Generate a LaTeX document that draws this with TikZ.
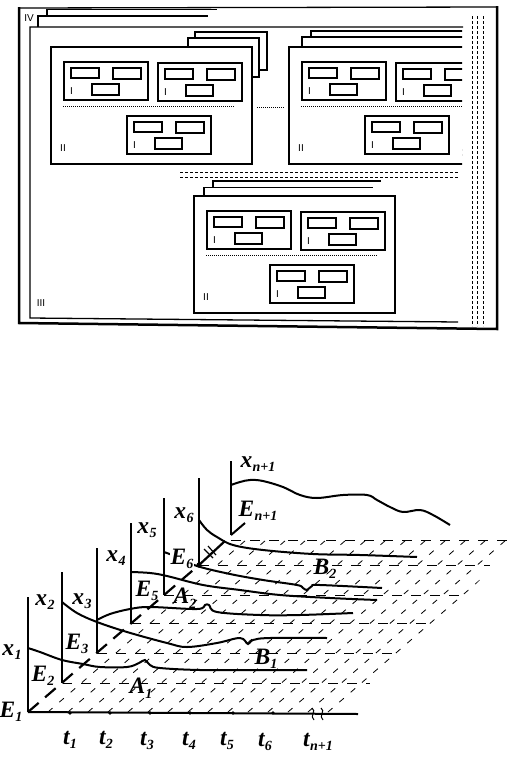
\documentclass[tikz,border=0pt]{standalone}
\usepackage{fontspec}
\setmainfont{Liberation Serif}
\setsansfont{Liberation Sans}
\newcommand\lbx[2]{{\fontsize{23.5}{25}\selectfont\bfseries\itshape #1\kern0.3pt\raisebox{-4.5pt}{\fontsize{14}{15}\selectfont #2}}}
\tikzset{
  iframe/.style={draw=black, line width=1.4pt},
  srect/.style={draw=black, line width=1.1pt},
  iiframe/.style={draw=black, line width=1.3pt},
  dotline/.style={line width=1pt, dash pattern=on 1pt off 1pt},
  dashv/.style={line width=1pt, dash pattern=on 3pt off 2pt},
  romlab/.style={font=\sffamily\fontsize{10}{10}\selectfont, inner sep=0pt},
  lab/.style={inner sep=0pt, anchor=center},
  gridrow/.style={line width=0.9pt, dash pattern=on 10pt off 9pt},
  griddiag/.style={line width=0.8pt, dash pattern=on 6pt off 9pt},
  curve/.style={line width=2pt, smooth, tension=0.6},
  ibox/.pic={
    \draw[iframe] (0,0) rectangle (84,38);
    \draw[srect] (7,6) rectangle (35,16);
    \draw[srect] (49,6) rectangle (77,17);
    \draw[srect] (28,22) rectangle (55,33);
    \node[romlab] (-l) at (7.5,29) {I};
  },
  iibox/.pic={
    \draw[iiframe, fill=white] (0,0) rectangle (201,117);
    \pic (-a) at (13,15) {ibox};
    \pic (-b) at (107,16) {ibox};
    \pic (-c) at (76,69) {ibox};
    \draw[dotline] (12,59) -- (183,59);
    \node[romlab] (-l) at (12,101) {II};
  }
}
\begin{document}
\begin{tikzpicture}[x=1pt,y=-1pt]
\useasboundingbox (0,0) rectangle (517,758);
% ================= TOP DIAGRAM =================
% outer IV frame
\draw[line width=1.3pt] (19,8) -- (497,7);
\draw[line width=2.5pt] (19,7) -- (19,323) -- (497,329) -- (497,6);
\node[romlab] (IV) at (29,18) {IV};
% stacked frames behind III
\draw[line width=1.2pt] (38,27) -- (38,16) -- (208,16);
\draw[line width=1.2pt] (47,16) -- (47,9.5) -- (217,9.5);
% III frame
\draw[iiframe] (463,27) -- (30,27) -- (30,318) -- (458,322);
\node[romlab] (III) at (41,303) {III};
% dashed right verticals
\foreach \x in {472,477.5,483} \draw[dashv] (\x,16) -- (\x,326);
% box A with stack
\draw[iiframe, fill=white] (195,32) rectangle (267,70);
\draw[iiframe, fill=white] (188,38) rectangle (259,77);
\pic (A) at (51,47) {iibox};
\draw[dotline] (257,107) -- (285,107);
% box B (clipped)
\begin{scope}
  \clip (0,0) rectangle (462,758);
  \draw[iiframe, fill=white] (311,31) rectangle (520,150);
  \draw[iiframe, fill=white] (302,37) rectangle (520,155);
  \pic (B) at (289,47) {iibox};
\end{scope}
% dashed horizontals
\draw[dashv] (180,172) -- (458,172);
\draw[dashv] (180,177) -- (458,177);
% box C
\draw[iiframe] (213,187.5) -- (213,181) -- (381,181);
\draw[iiframe] (204,196) -- (204,187.5) -- (373,187.5);
\pic (C) at (194,196) {iibox};
% ================= BOTTOM PLOT =================
% ground grid
\begin{scope}
  \clip (28,714) -- (345,714) -- (522,538) -- (231,536) -- cycle;
  \foreach \y/\xs in {683/62, 653/97, 623/131, 595/164, 565/199, 540/231}
    \draw[gridrow] (\xs,\y) -- ({340+(712-\y)*1.02},\y);
  \foreach \x in {48,68,...,338}
    \draw[griddiag] (\x,712) -- ({\x+198},540);
\end{scope}
% curves
\draw[curve] plot coordinates {(28,648) (40,652) (62,660) (83,664) (100,667) (127,667) (139,663) (145,660) (150,665) (160,668) (200,670) (260,670) (307,670)};
\draw[curve] plot coordinates {(62,602) (77,613) (97,622) (127,632) (167,643) (187,647) (217,643) (240,638) (248,644) (253,640) (270,638) (327,638)};
\draw[curve] plot coordinates {(97,620) (110,614) (130,609) (150,607) (197,609) (205,605) (209,605) (217,612) (260,615) (300,615) (353,613)};
\draw[curve] plot coordinates {(131,572) (150,573) (167,576) (203,585) (240,590) (280,595) (330,598) (377,600)};
\draw[curve] plot coordinates {(164,552) (180,558) (197,566) (230,574) (263,580) (297,585) (303,588) (307,590) (312,586) (320,585) (382,588)};
\draw[curve] plot coordinates {(199,520) (207,530) (217,537) (233,545) (263,550) (313,554) (360,555) (417,557)};
\draw[curve] plot coordinates {(231,485) (240,482) (250,480) (263,481) (283,487) (300,495) (317,498) (343,495) (367,495) (377,500) (390,507) (403,512) (420,510) (433,515) (450,525)};
% time axis
\draw[line width=2pt] (28,712) -- (358,714);
\foreach \x in {70,110,150,190,233,273} \fill (\x,713) circle (1.8);
\draw[line width=1pt] (312,708) .. controls (317,711) and (309,716) .. (314,720);
\draw[line width=1pt] (321,708) .. controls (326,711) and (318,716) .. (323,720);
% depth axis
\draw[line width=2.2pt, dash pattern=on 14pt off 8.5pt] (28,712) -- (199,565);
\draw[line width=2.2pt] (199,565) -- (225,541);
\draw[line width=1.2pt] (204,549) -- (213,558);
\draw[line width=1.2pt] (208,546) -- (216,555);
\draw[line width=2pt] (231,535) -- (245,523);
% vertical axes
\draw[line width=1.2pt] (28,597) -- (28,712);
\draw[line width=2.2pt] (62,572) -- (62,683);
\draw[line width=2pt] (97,548) -- (97,653);
\draw[line width=2.2pt] (131,523) -- (131,623);
\draw[line width=1.8pt] (164,498) -- (164,595);
\draw[line width=2.2pt] (199,478) -- (199,565);
\fill (199,565) circle (2.6);
\draw[line width=2pt] (231,461) -- (231,535);
% labels
\node[lab] (x1) at (12,652) {\lbx{x}{1}};
\node[lab] (x2) at (45,602) {\lbx{x}{2}};
\node[lab] (x3) at (82,601) {\lbx{x}{3}};
\node[lab] (x4) at (116,558) {\lbx{x}{4}};
\node[lab] (x5) at (147,530) {\lbx{x}{5}};
\node[lab] (x6) at (184,515) {\lbx{x}{6}};
\node[lab] (xn) at (258,464) {\lbx{x}{n+1}};
\node[lab] (E1) at (11,712) {\lbx{E}{1}};
\node[lab] (E2) at (43,676) {\lbx{E}{2}};
\node[lab] (E3) at (77,644) {\lbx{E}{3}};
\node[lab] (E5) at (147,591) {\lbx{E}{5}};
\node[lab, fill=white, inner sep=0.5pt] (E6) at (182,559) {\lbx{E}{6}};
\node[lab] (En) at (258,511) {\lbx{E}{n+1}};
\node[lab] (A1) at (141,688) {\lbx{A}{1}};
\node[lab] (B1) at (266,659) {\lbx{B}{1}};
\node[lab] (A2) at (185,598) {\lbx{A}{2}};
\node[lab] (B2) at (325,569) {\lbx{B}{2}};
\node[lab] (t1) at (70,740) {\lbx{t}{1}};
\node[lab] (t2) at (106,740) {\lbx{t}{2}};
\node[lab] (t3) at (147,741) {\lbx{t}{3}};
\node[lab] (t4) at (189,741) {\lbx{t}{4}};
\node[lab] (t5) at (227,741) {\lbx{t}{5}};
\node[lab] (t6) at (265,742) {\lbx{t}{6}};
\node[lab] (tn) at (318,742) {\lbx{t}{n+1}};
\end{tikzpicture}
\end{document}
